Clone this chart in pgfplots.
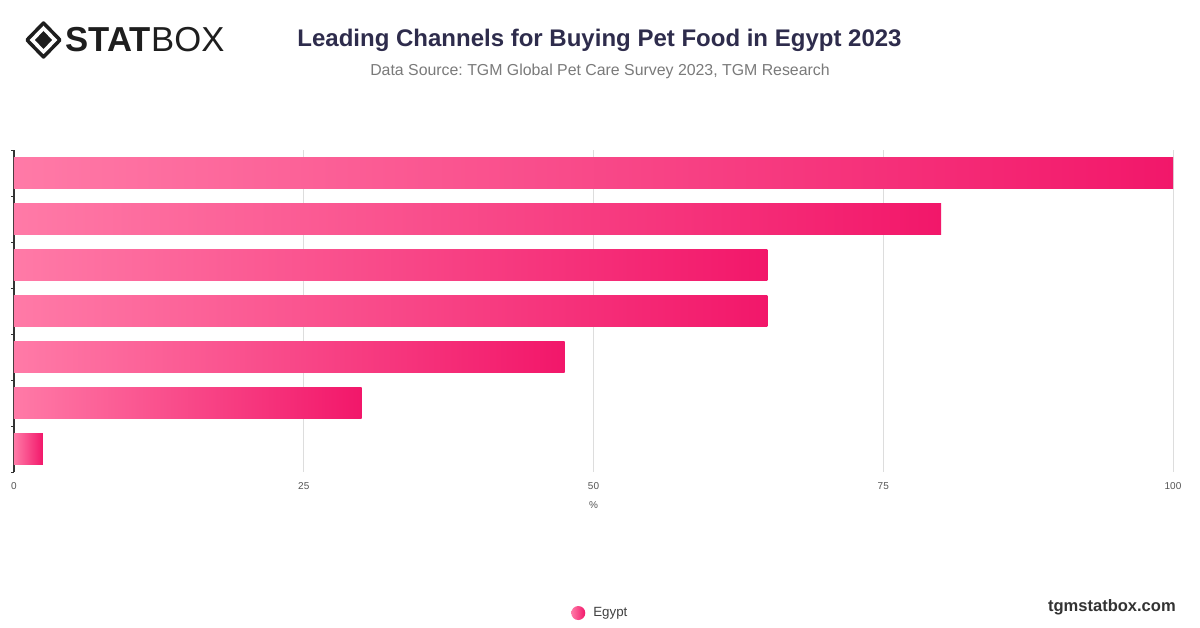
\documentclass[border=0pt]{standalone}
\usepackage{pgfplots}
\pgfplotsset{compat=1.18}
\usepackage{fontspec}
\setmainfont{Liberation Sans}
\frenchspacing
\definecolor{barL}{HTML}{FF7AA7}
\definecolor{barR}{HTML}{F2176A}
\definecolor{titlec}{HTML}{2E2C4C}
\definecolor{subc}{HTML}{7A7A7A}
\definecolor{tickc}{HTML}{555555}
\definecolor{gridc}{HTML}{DDDDDD}
\definecolor{logoc}{HTML}{1E1E1E}
\pgfplotsset{onebar/.style={xbar, bar shift=0pt, bar width=0.67, draw=none, left color=barL, right color=barR}}
\begin{document}
\begin{tikzpicture}
\begin{scope}[x=0.75pt,y=0.75pt]
\path[fill=white] (0,0) rectangle (1200,628);
% logo
\draw[logoc, line width=2.6pt, line join=round] (43.5,605) -- (60,588) -- (43.5,571) -- (27,588) -- cycle;
\fill[logoc] (43.5,597) -- (52,588) -- (43.5,579) -- (35,588) -- cycle;
\node[anchor=west, inner sep=0pt, text=logoc, font=\bfseries\fontsize{26}{28}\selectfont] (stat) at (65,588) {STAT};
\node[anchor=west, inner sep=0pt, text=logoc, font=\fontsize{26}{28}\selectfont] at (stat.east) {BOX};
% titles
\node[text=titlec, font=\bfseries\fontsize{18}{22}\selectfont] at (599.5,588) {Leading Channels for Buying Pet Food in Egypt 2023};
\node[text=subc, font=\fontsize{11.9}{14}\selectfont] at (600,557) {Data Source: TGM Global Pet Care Survey 2023, TGM Research};
\node[anchor=east, inner sep=0pt, text=black!80, font=\bfseries\fontsize{12.4}{14}\selectfont] at (1176,21) {tgmstatbox.com};
\end{scope}
\begin{axis}[
  at={(10.5pt,117pt)}, anchor=south west,
  scale only axis, width=869.25pt, height=241.5pt,
  xmin=0, xmax=100, ymin=-0.5, ymax=6.5,
  axis lines=left, axis line style={-},
  x axis line style={draw=none},
  y axis line style={draw=black!80, line width=0.8pt},
  xtick={0,25,50,75,100},
  xtick style={draw=none},
  /pgf/number format/assume math mode=true,
  xticklabel style={anchor=center, yshift=-8.5pt, text=tickc, font=\fontsize{7.5}{9}\selectfont},
  ytick={-0.5,0.5,...,6.5}, yticklabels={},
  ytick style={draw=black!80, line width=0.6pt},
  tick align=outside, major tick length=2pt, ytick pos=left,
  xmajorgrids, grid style={gridc, line width=0.6pt},
  xlabel={\%},
  xlabel style={at={(axis description cs:0.5,-0.1025)}, anchor=center, text=tickc, font=\fontsize{7.5}{9}\selectfont},
  legend style={at={(axis description cs:0.4806,-0.438)}, anchor=west, draw=none, fill=none, inner sep=0pt, font=\fontsize{10}{12}\selectfont, text=black!75, /tikz/every odd column/.append style={column sep=4pt}},
  legend image code/.code={\shade[left color=barL, right color=barR] (0pt,0pt) circle (5.25pt);},
]
\addplot[onebar] coordinates {(100,6)};
\addlegendentry{Egypt}
\addplot[onebar, forget plot] coordinates {(80,5)};
\addplot[onebar, forget plot] coordinates {(65,4)};
\addplot[onebar, forget plot] coordinates {(65,3)};
\addplot[onebar, forget plot] coordinates {(47.5,2)};
\addplot[onebar, forget plot] coordinates {(30,1)};
\addplot[onebar, forget plot] coordinates {(2.5,0)};
\end{axis}
\end{tikzpicture}
\end{document}
